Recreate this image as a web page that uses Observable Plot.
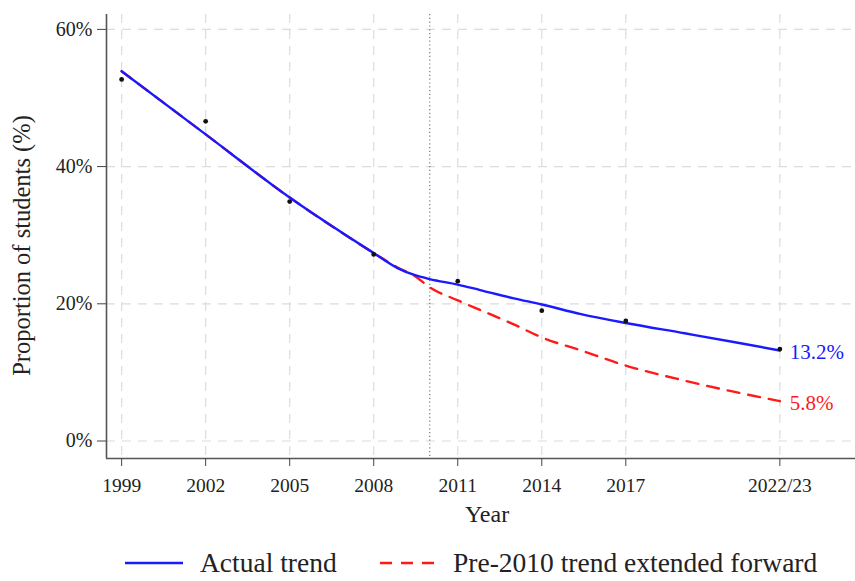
<!DOCTYPE html>
<html>
<head>
<meta charset="utf-8">
<script src="https://cdn.jsdelivr.net/npm/d3@7"></script>
<script src="https://cdn.jsdelivr.net/npm/@observablehq/plot@0.6"></script>
<style>
  html, body { margin: 0; padding: 0; background: #fff; }
  body { width: 855px; height: 581px; overflow: hidden; font-family: "Liberation Serif", "DejaVu Serif", serif; }
  #chart svg { display: block; }
  #legend { position: relative; height: 47px; font-family: "Liberation Serif", serif; font-size: 27.5px; color: #222; }
  #legend .item { position: absolute; top: 16px; height: 26px; line-height: 26px; display: flex; align-items: center; white-space: nowrap; }
  #legend svg { margin-right: 17px; }
</style>
</head>
<body>
<div id="chart"></div>
<div id="legend">
  <div class="item" style="left:125px"><svg width="58" height="6"><line x1="0" x2="58" y1="3" y2="3" stroke="#1a1aff" stroke-width="2.5"/></svg><span>Actual trend</span></div>
  <div class="item" style="left:380px"><svg width="56" height="6"><line x1="0" x2="56" y1="3" y2="3" stroke="#ff1a1a" stroke-width="2.5" stroke-dasharray="12,9"/></svg><span>Pre-2010 trend extended forward</span></div>
</div>
<script>
// Survey waves (2022/23 placed at 2022.5)
const tickYears = [1999, 2002, 2005, 2008, 2011, 2014, 2017, 2022.5];
const tickLabels = ["1999", "2002", "2005", "2008", "2011", "2014", "2017", "2022/23"];
const yTicks = [0, 20, 40, 60];

// Observed proportions (%)
const obsYears = [1999, 2002, 2005, 2008, 2011, 2014, 2017, 2022.5];
const obsValues = [52.7, 46.6, 34.9, 27.2, 23.3, 19.0, 17.5, 13.4];

// Actual smoothed trend (%)
const actualYears = [1999, 2002, 2005, 2008, 2008.85, 2009.45, 2010, 2011, 2011.8, 2013, 2014, 2015.4, 2017, 2019.1, 2020.9, 2022.5];
const actualValues = [53.9, 44.7, 35.5, 27.4, 25.2, 24.2, 23.6, 22.8, 22.0, 20.8, 19.9, 18.5, 17.2, 15.7, 14.4, 13.2];

// Pre-2010 trend extended forward (%)
const preYears = [1999, 2002, 2005, 2008, 2008.85, 2009.45, 2010, 2011, 2011.8, 2013, 2014, 2015.4, 2017, 2019.1, 2022.5];
const preValues = [53.9, 44.7, 35.5, 27.4, 25.3, 24.1, 22.4, 20.5, 19.1, 17.0, 15.1, 13.2, 11.0, 8.8, 5.8];

const breakYear = 2010;
const endLabels = [
  {year: 2022.5, value: 13.2, text: "13.2%", color: "#1a1aff"},
  {year: 2022.5, value: 5.8, text: "5.8%", color: "#ff1a1a"}
];

const actual = actualYears.map((x, i) => ({x, y: actualValues[i]}));
const pre = preYears.map((x, i) => ({x, y: preValues[i]}));
const obs = obsYears.map((x, i) => ({x, y: obsValues[i]}));

const xDomain = [1998.46, 2025.2];
const yDomain = [-2.55, 62.17];
const fmt = d => tickLabels[tickYears.indexOf(d)];

const chart = Plot.plot({
  width: 855,
  height: 534,
  marginLeft: 106,
  marginRight: 0,
  marginTop: 14,
  marginBottom: 76,
  style: {fontFamily: "Liberation Serif, serif", background: "#fff", color: "#222"},
  x: {domain: xDomain},
  y: {domain: yDomain},
  marks: [
    Plot.ruleY(yTicks, {stroke: "#dcdcdc", strokeWidth: 1.2, strokeDasharray: "9,7"}),
    Plot.ruleX(tickYears, {stroke: "#dcdcdc", strokeWidth: 1.2, strokeDasharray: "9,7"}),
    Plot.ruleX([breakYear], {stroke: "#777", strokeWidth: 1.2, strokeDasharray: "1.2,2.6"}),
    Plot.line(pre, {x: "x", y: "y", stroke: "#ff1a1a", strokeWidth: 2.4, strokeDasharray: "12,9", curve: "monotone-x"}),
    Plot.line(actual, {x: "x", y: "y", stroke: "#1a1aff", strokeWidth: 2.4, curve: "monotone-x"}),
    Plot.dot(obs, {x: "x", y: "y", r: 2.4, fill: "#111", stroke: "none"}),
    Plot.text(endLabels, {x: "year", y: "value", text: "text", fill: "color", textAnchor: "start", dx: 10, dy: 2, fontSize: 21}),
    Plot.ruleX([xDomain[0]], {stroke: "#555", strokeWidth: 1.6}),
    Plot.ruleY([yDomain[0]], {stroke: "#555", strokeWidth: 1.6}),
    Plot.axisY({ticks: yTicks, tickFormat: d => d + "%", tickSize: 9, tickPadding: 5, fontSize: 20, label: null, stroke: "#444"}),
    Plot.axisX({ticks: tickYears, tickFormat: fmt, tickSize: 8, tickPadding: 12, fontSize: 19.5, label: null, stroke: "#444"}),
    Plot.text(["Proportion of students (%)"], {frameAnchor: "left", textAnchor: "middle", dx: -84, dy: 9, rotate: -90, fontSize: 24.5, fill: "#222"}),
    Plot.text(["Year"], {frameAnchor: "bottom", dx: 6, dy: 63, fontSize: 24, fill: "#222"})
  ]
});
document.getElementById("chart").appendChild(chart);
</script>
</body>
</html>
